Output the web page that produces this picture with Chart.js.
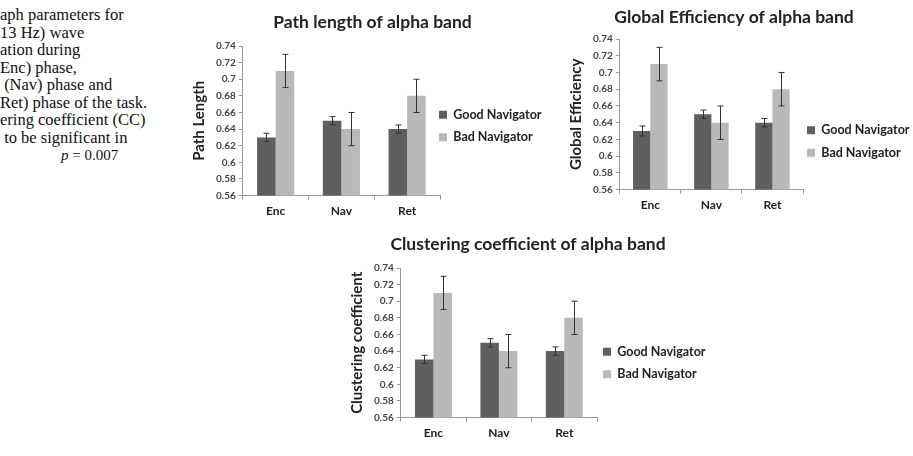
<!DOCTYPE html>
<html>
<head>
<meta charset="utf-8">
<script src="https://cdn.jsdelivr.net/npm/chart.js@4.4.0/dist/chart.umd.min.js"></script>
<style>
  body{margin:0;background:#fff;width:913px;height:456px;overflow:hidden;position:relative;}
  .box{position:absolute;}
  #caption{position:absolute;left:0;top:6px;font-family:"Liberation Serif",serif;font-size:16.5px;line-height:17.5px;color:#111;white-space:pre;}
</style>
</head>
<body>
<div id="caption">aph parameters for
13 Hz) wave
ation during
Enc) phase,
 (Nav) phase and
Ret) phase of the task.
ering coefficient (CC)
 to be significant in
<span style="padding-left:61px;font-size:15px"><i>p</i> = 0.007</span></div>
<div class="box" style="left:190px;top:0px;"><canvas id="c1" width="375" height="222"></canvas></div>
<div class="box" style="left:567px;top:0px;"><canvas id="c2" width="355" height="216"></canvas></div>
<div class="box" style="left:348px;top:224px;"><canvas id="c3" width="372" height="220"></canvas></div>
<script>
// datos
var categories = ['Enc', 'Nav', 'Ret'];
var seriesNames = ['Good Navigator', 'Bad Navigator'];

var pathGood = [0.63, 0.65, 0.64];
var pathGoodErr = [0.005, 0.005, 0.005];
var pathBad = [0.71, 0.64, 0.68];
var pathBadErr = [0.02, 0.02, 0.02];

var effGood = [0.63, 0.65, 0.64];
var effGoodErr = [0.006, 0.005, 0.005];
var effBad = [0.71, 0.64, 0.68];
var effBadErr = [0.02, 0.02, 0.02];

var ccGood = [0.63, 0.65, 0.64];
var ccGoodErr = [0.005, 0.005, 0.005];
var ccBad = [0.71, 0.64, 0.68];
var ccBadErr = [0.02, 0.02, 0.02];

var yTicks = {min: 0.56, max: 0.74, step: 0.02};

// barras de error
var errorBars = {
  id: 'errorBars',
  afterDatasetsDraw: function(chart){
    var ctx = chart.ctx, y = chart.scales.y;
    ctx.save();
    ctx.strokeStyle = '#333';
    ctx.lineWidth = 1;
    chart.data.datasets.forEach(function(ds, i){
      var meta = chart.getDatasetMeta(i);
      meta.data.forEach(function(bar, j){
        var v = ds.data[j], e = ds.errors[j];
        var top = y.getPixelForValue(v + e), bot = y.getPixelForValue(v - e);
        var x = Math.round(bar.x) + 0.5;
        ctx.beginPath();
        ctx.moveTo(x, top); ctx.lineTo(x, bot);
        ctx.moveTo(x - 3, top); ctx.lineTo(x + 3, top);
        ctx.moveTo(x - 3, bot); ctx.lineTo(x + 3, bot);
        ctx.stroke();
      });
    });
    ctx.restore();
  }
};

// mover la leyenda un poco (como en el original) y darle ancho para el texto
var legendNudge = {
  id: 'legendNudge',
  afterLayout: function(chart, args, opts){
    var lg = chart.legend;
    if (!lg) return;
    lg.left += opts.dx || 0;
    lg.top += opts.dy || 0; lg.bottom += opts.dy || 0;
    lg.width = 140;
    lg.right = lg.left + lg.width;
  }
};

function makeChart(id, title, yLabel, good, goodErr, bad, badErr, lay){
  var ctx = document.getElementById(id).getContext('2d');
  return new Chart(ctx, {
    type: 'bar',
    data: {
      labels: categories,
      datasets: [
        {label: seriesNames[0], data: good, errors: goodErr, backgroundColor: '#5f5f5f',
         categoryPercentage: 0.565, barPercentage: 1.0},
        {label: seriesNames[1], data: bad, errors: badErr, backgroundColor: '#b9b9b9',
         categoryPercentage: 0.565, barPercentage: 1.0}
      ]
    },
    options: {
      responsive: false,
      animation: false,
      layout: {padding: {left: 0, right: lay.padRight, top: lay.padTop, bottom: 0}},
      plugins: {
        title: {display: true, text: title, color: '#222',
          font: {family: 'Lato', size: 17.5, weight: 'bold'}, padding: {top: 0, bottom: lay.titleGap}},
        legend: {position: 'right', maxWidth: lay.legendW,
          labels: {boxWidth: 8, boxHeight: 8, color: '#222', padding: 10,
            font: {family: 'Lato', size: 12.5, weight: 'bold'}}},
        legendNudge: {dx: lay.dx, dy: lay.dy},
        tooltip: {enabled: false}
      },
      scales: {
        x: {
          grid: {display: true, drawOnChartArea: false, tickLength: 4, color: '#999', offset: true},
          border: {color: '#999'},
          ticks: {color: '#222', font: {family: 'Lato', size: 12, weight: 'bold'}, padding: 4}
        },
        y: {
          min: yTicks.min, max: yTicks.max,
          grid: {display: true, drawOnChartArea: false, tickLength: 4, color: '#999'},
          border: {color: '#999'},
          ticks: {stepSize: yTicks.step, color: '#444', padding: 3,
            font: {family: 'Lato', size: 10, weight: 'bold'},
            callback: function(v){ return String(Number(v.toFixed(2))); }},
          title: {display: true, text: yLabel, color: '#222',
            font: {family: 'Lato', size: 15, weight: 'bold'}, padding: {top: 0, bottom: 5}}
        }
      }
    },
    plugins: [errorBars, legendNudge]
  });
}

makeChart('c1', 'Path length of alpha band', 'Path Length', pathGood, pathGoodErr, pathBad, pathBadErr,
  {padTop: 12, titleGap: 13, padRight: 10, legendW: 115, dx: -11, dy: 9});
makeChart('c2', 'Global Efficiency of alpha band', 'Global Efficiency', effGood, effGoodErr, effBad, effBadErr,
  {padTop: 7, titleGap: 11, padRight: 21, legendW: 98, dx: -6, dy: 30});
makeChart('c3', 'Clustering coefficient of alpha band', 'Clustering coefficient', ccGood, ccGoodErr, ccBad, ccBadErr,
  {padTop: 10, titleGap: 13, padRight: 12, legendW: 111, dx: -4, dy: 24});
</script>
</body>
</html>
